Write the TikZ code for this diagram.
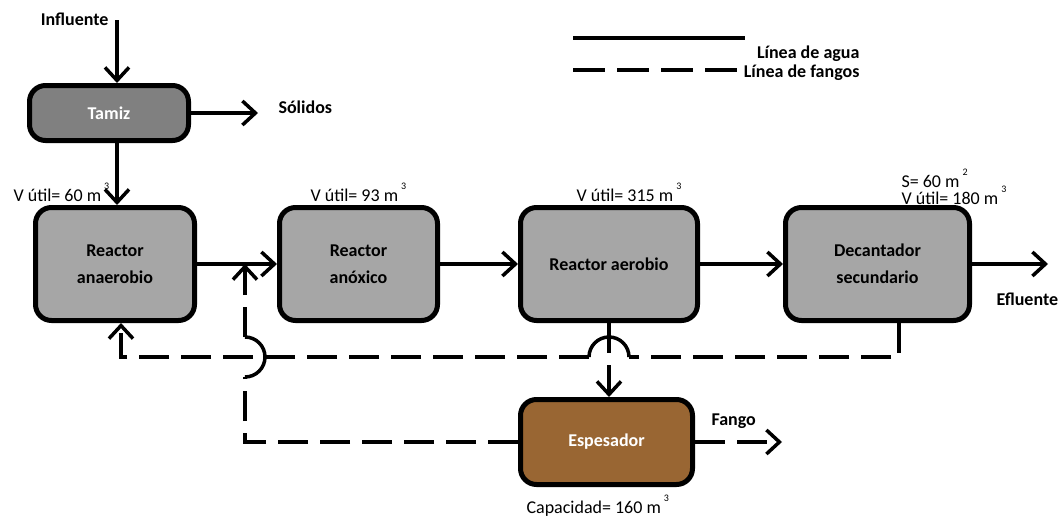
\documentclass[tikz,border=0pt]{standalone}
\usepackage{fontspec}
\setmainfont{Carlito}
\usetikzlibrary{positioning,arrows.meta,calc}
\definecolor{espbrown}{HTML}{996633}
\newcommand{\cubed}[1]{\,\raisebox{1.3ex}{\fontsize{10}{10}\selectfont #1}}

\begin{document}
\begin{tikzpicture}[x=1pt, y=-1pt, node distance=80pt, font=\fontsize{18}{27}\selectfont]
\tikzstyle{block} = [rectangle, draw, line width=5pt, fill=black!35, align=center, rounded corners=16pt, minimum width=159pt, minimum height=113pt, font=\fontsize{18}{27}\selectfont\bfseries]
\tikzstyle{label} = [font=\fontsize{18}{22}\selectfont\bfseries]
\tikzstyle{agua} = [draw, line width=3.5pt, -{Straight Barb[length=13pt,width=24pt]}]
\tikzstyle{fangos} = [draw, line width=3.5pt, dash pattern=on 30pt off 12pt, -{Straight Barb[length=13pt,width=24pt]}]
\tikzstyle{fangoline} = [draw, line width=3.5pt, dash pattern=on 30pt off 12pt]
\tikzstyle{hop} = [draw, line width=3.5pt]

\useasboundingbox (0,0) rectangle (1058,517);

% legend
\coordinate (legA) at (573,38);
\coordinate (legB) at (745,38);
\coordinate (legC) at (573,70);
\coordinate (legD) at (745,70);
\draw [line width=3.5pt] (legA) -- (legB);
\draw [line width=3.5pt, dash pattern=on 32pt off 12pt] (legC) -- (legD);
\node [label, anchor=base east] (legagua) at (863,58) {Línea de agua};
\node [label, anchor=base east] (legfang) at (863,77) {Línea de fangos};

% process units
\node [block] (anaer) at (115,264) {Reactor\\anaerobio};
\node [block, right=of anaer, minimum width=158pt] (anox) {Reactor\\anóxico};
\node [block, right=78pt of anox, minimum width=177pt] (aerob) {Reactor aerobio};
\node [block, right=83pt of aerob, minimum width=184pt] (decant) {Decantador\\secundario};
\node [block, above=62pt of anaer, xshift=-6pt, minimum height=55pt, fill=black!50, text=white] (tamiz) {Tamiz};
\node [block, below=74pt of aerob, xshift=-2.5pt, minimum width=172pt, minimum height=85pt, fill=espbrown, text=white] (espes) {Espesador};

% volumes
\node [anchor=base west] (volanaer) at (10,201) {V útil= 60 m\cubed{3}};
\node [anchor=base west] (volanox) at (307,201) {V útil= 93 m\cubed{3}};
\node [anchor=base west] (volaerob) at (573,201) {V útil= 315 m\cubed{3}};
\node [anchor=base west] (surfdec) at (898,187) {S= 60 m\cubed{2}};
\node [anchor=base west] (voldec) at (898,204) {V útil= 180 m\cubed{3}};
\node [anchor=base west] (capesp) at (523,513) {Capacidad= 160 m\cubed{3}};

% inputs and outputs
\node [label, anchor=base east] (influ) at (112,25) {Influente};
\node [label, anchor=base west] (solids) at (275,113) {Sólidos};
\node [label, anchor=base west] (efflu) at (993,305) {Efluente};
\node [label, anchor=base west] (fango) at (708,425) {Fango};
\coordinate (inflow) at (117,20);
\coordinate (solidout) at (258,113);
\coordinate (effout) at (1048,264);
\coordinate (fangout) at (782,442);

% water line
\path [agua] (inflow) -- (inflow |- tamiz.north);
\path [agua] (tamiz.east) -- (solidout |- tamiz.east);
\path [agua] (inflow |- tamiz.south) -- (inflow |- anaer.north);
\path [agua] (anaer) -- (anox);
\path [agua] (anox) -- (aerob);
\path [agua] (aerob) -- (decant);
\path [agua] (decant.east) -- (effout);

% sludge line
\coordinate (retcorner) at (899,357);
\coordinate (retleft) at (121,357);
\coordinate (recirc) at (245,443);
\coordinate (hopR) at ($(aerob.south |- retcorner)+(20pt,0)$);
\coordinate (hopL) at ($(aerob.south |- retcorner)+(-20pt,0)$);
\coordinate (hopB) at ($(recirc |- retcorner)+(0,-20pt)$);
\coordinate (hopT) at ($(recirc |- retcorner)+(0,20pt)$);
\path [fangoline] (retcorner |- decant.south) -- (retcorner) -- (hopR);
\path [hop] (hopR) arc[start angle=0, end angle=180, radius=20pt];
\path [fangos] (hopL) -- (retleft) -- (retleft |- anaer.south);
\path [fangos] (aerob.south) -- (aerob.south |- espes.north);
\path [fangoline] (espes.west) -- (espes.west -| recirc) -- (hopB);
\path [hop] (hopB) arc[start angle=-90, end angle=90, radius=20pt];
\path [fangos] (hopT) -- (recirc |- anaer.east);
\path [fangos] (espes.east) -- (fangout);
\end{tikzpicture}
\end{document}
